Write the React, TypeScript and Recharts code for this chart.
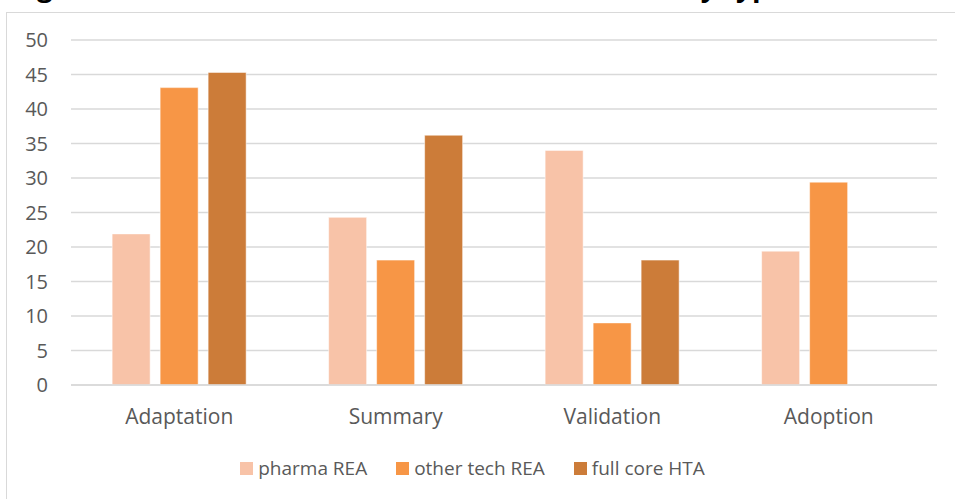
import React from 'react';
import { BarChart, Bar, XAxis, YAxis, CartesianGrid, Legend } from 'recharts';

// Categories and series
const categories = ['Adaptation', 'Summary', 'Validation', 'Adoption'];
const pharmaRea = [21.9, 24.3, 34.0, 19.4];
const otherTechRea = [43.1, 18.1, 9.0, 29.4];
const fullCoreHta = [45.3, 36.2, 18.1, null];
const yTicks = [0, 5, 10, 15, 20, 25, 30, 35, 40, 45, 50];

const series = [
  { key: 'pharma', name: 'pharma REA', color: '#F8C3A8' },
  { key: 'other', name: 'other tech REA', color: '#F79646' },
  { key: 'full', name: 'full core HTA', color: '#CC7C39' },
];

const data = categories.map((name, i) => ({
  name,
  pharma: pharmaRea[i],
  other: otherTechRea[i],
  full: fullCoreHta[i],
}));

const FONT = '"Open Sans", sans-serif';
const TEXT = '#595959';

// keep the legend in series order
const renderLegend = (props: any) => {
  const items = series
    .map((s) => (props.payload || []).find((p: any) => p.dataKey === s.key) || { value: s.name, color: s.color })
  return (
    <div style={{ display: 'flex', justifyContent: 'center', gap: 29, fontFamily: FONT, fontSize: 19, color: TEXT }}>
      {items.map((entry: any) => (
        <div key={entry.value} style={{ display: 'flex', alignItems: 'center' }}>
          <span style={{ display: 'inline-block', width: 13, height: 13, background: entry.color, marginRight: 5 }} />
          <span>{entry.value}</span>
        </div>
      ))}
    </div>
  );
};

const App = () => {
  return (
    <div style={{ position: 'absolute', left: 0, top: 0, width: 955, height: 499, overflow: 'hidden', background: '#fff' }}>
      {/* title sits above the frame, only its descenders show */}
      <svg width={955} height={12} style={{ position: 'absolute', left: 0, top: 0 }}>
        <text x={13} y={-4.5} fontFamily={FONT} fontWeight="bold" fontSize={28} fill="#000">
          Figure 4: Number of recommendations
        </text>
        <text x={683} y={-4.5} fontFamily={FONT} fontWeight="bold" fontSize={28} fill="#000">
          by type
        </text>
      </svg>
      <div style={{ position: 'absolute', left: 6, top: 12, width: 980, height: 520, border: '1px solid #D9D9D9' }} />
      <div style={{ position: 'absolute', left: 0, top: 0 }}>
        <BarChart
          width={955}
          height={499}
          data={data}
          margin={{ top: 40, right: 18, bottom: 28, left: 0 }}
          barCategoryGap="19%"
          barGap={10}
        >
          <CartesianGrid vertical={false} stroke="#D9D9D9" strokeWidth={1.3} />
          <XAxis
            dataKey="name"
            height={60}
            tickLine={false}
            tickSize={0}
            tickMargin={24}
            axisLine={{ stroke: '#D9D9D9', strokeWidth: 1.3 }}
            tick={{ fontFamily: FONT, fontSize: 21, fill: TEXT }}
          />
          <YAxis
            width={71}
            domain={[0, 50]}
            ticks={yTicks}
            interval={0}
            tickLine={false}
            axisLine={false}
            tickSize={0}
            tickMargin={23}
            tick={{ fontFamily: FONT, fontSize: 20, fill: TEXT }}
          />
          <Legend verticalAlign="bottom" content={renderLegend} wrapperStyle={{ top: 455, left: 0, width: 945 }} />
          {series.map((s) => (
            <Bar
              key={s.key}
              dataKey={s.key}
              name={s.name}
              fill={s.color}
              stroke="#fff"
              strokeOpacity={0.5}
              strokeWidth={1}
              isAnimationActive={false}
            />
          ))}
        </BarChart>
      </div>
    </div>
  );
};

export default App;
